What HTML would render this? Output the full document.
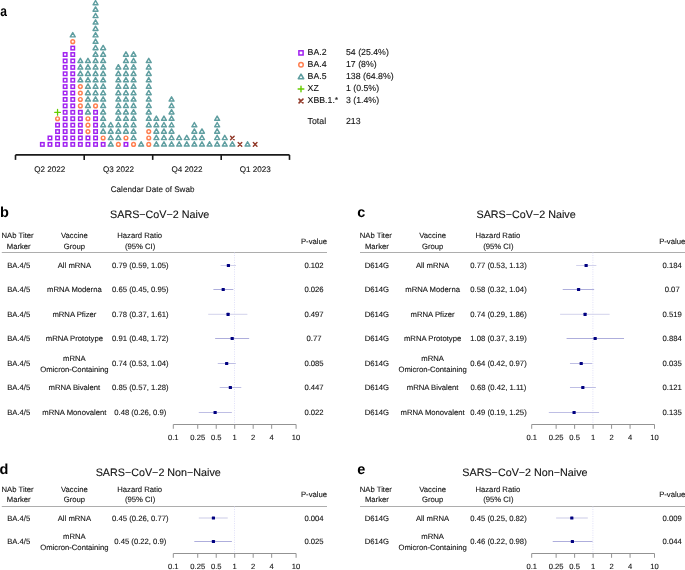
<!DOCTYPE html>
<html><head><meta charset="utf-8"><style>
html,body{margin:0;padding:0;background:#fff;}
body{width:685px;height:570px;overflow:hidden;}
svg{display:block;will-change:transform;}
text{font-family:"Liberation Sans", sans-serif;text-rendering:geometricPrecision;}
</style></head><body>
<svg width="685" height="570" viewBox="0 0 685 570">
<rect width="685" height="570" fill="#fff"/>
<rect x="40.60" y="142.65" width="3.50" height="3.50" fill="none" stroke="#A020F0" stroke-width="1.45"/>
<rect x="48.20" y="142.65" width="3.50" height="3.50" fill="none" stroke="#A020F0" stroke-width="1.45"/>
<rect x="48.20" y="136.23" width="3.50" height="3.50" fill="none" stroke="#A020F0" stroke-width="1.45"/>
<rect x="55.80" y="142.65" width="3.50" height="3.50" fill="none" stroke="#A020F0" stroke-width="1.45"/>
<rect x="55.80" y="136.23" width="3.50" height="3.50" fill="none" stroke="#A020F0" stroke-width="1.45"/>
<rect x="55.80" y="129.81" width="3.50" height="3.50" fill="none" stroke="#A020F0" stroke-width="1.45"/>
<rect x="55.80" y="123.39" width="3.50" height="3.50" fill="none" stroke="#A020F0" stroke-width="1.45"/>
<circle cx="57.55" cy="118.72" r="1.85" fill="none" stroke="#FF7F50" stroke-width="1.45"/>
<path d="M54.70,112.30H60.40M57.55,109.45V115.15" fill="none" stroke="#66CD00" stroke-width="1.3" stroke-linecap="round"/>
<rect x="63.40" y="142.65" width="3.50" height="3.50" fill="none" stroke="#A020F0" stroke-width="1.45"/>
<rect x="63.40" y="136.23" width="3.50" height="3.50" fill="none" stroke="#A020F0" stroke-width="1.45"/>
<rect x="63.40" y="129.81" width="3.50" height="3.50" fill="none" stroke="#A020F0" stroke-width="1.45"/>
<rect x="63.40" y="123.39" width="3.50" height="3.50" fill="none" stroke="#A020F0" stroke-width="1.45"/>
<rect x="63.40" y="116.97" width="3.50" height="3.50" fill="none" stroke="#A020F0" stroke-width="1.45"/>
<rect x="63.40" y="110.55" width="3.50" height="3.50" fill="none" stroke="#A020F0" stroke-width="1.45"/>
<rect x="63.40" y="104.13" width="3.50" height="3.50" fill="none" stroke="#A020F0" stroke-width="1.45"/>
<rect x="63.40" y="97.71" width="3.50" height="3.50" fill="none" stroke="#A020F0" stroke-width="1.45"/>
<rect x="63.40" y="91.29" width="3.50" height="3.50" fill="none" stroke="#A020F0" stroke-width="1.45"/>
<rect x="63.40" y="84.87" width="3.50" height="3.50" fill="none" stroke="#A020F0" stroke-width="1.45"/>
<rect x="63.40" y="78.45" width="3.50" height="3.50" fill="none" stroke="#A020F0" stroke-width="1.45"/>
<rect x="63.40" y="72.03" width="3.50" height="3.50" fill="none" stroke="#A020F0" stroke-width="1.45"/>
<rect x="63.40" y="65.61" width="3.50" height="3.50" fill="none" stroke="#A020F0" stroke-width="1.45"/>
<rect x="63.40" y="59.19" width="3.50" height="3.50" fill="none" stroke="#A020F0" stroke-width="1.45"/>
<rect x="63.40" y="52.77" width="3.50" height="3.50" fill="none" stroke="#A020F0" stroke-width="1.45"/>
<rect x="71.00" y="142.65" width="3.50" height="3.50" fill="none" stroke="#A020F0" stroke-width="1.45"/>
<rect x="71.00" y="136.23" width="3.50" height="3.50" fill="none" stroke="#A020F0" stroke-width="1.45"/>
<rect x="71.00" y="129.81" width="3.50" height="3.50" fill="none" stroke="#A020F0" stroke-width="1.45"/>
<rect x="71.00" y="123.39" width="3.50" height="3.50" fill="none" stroke="#A020F0" stroke-width="1.45"/>
<rect x="71.00" y="116.97" width="3.50" height="3.50" fill="none" stroke="#A020F0" stroke-width="1.45"/>
<rect x="71.00" y="110.55" width="3.50" height="3.50" fill="none" stroke="#A020F0" stroke-width="1.45"/>
<rect x="71.00" y="104.13" width="3.50" height="3.50" fill="none" stroke="#A020F0" stroke-width="1.45"/>
<rect x="71.00" y="97.71" width="3.50" height="3.50" fill="none" stroke="#A020F0" stroke-width="1.45"/>
<rect x="71.00" y="91.29" width="3.50" height="3.50" fill="none" stroke="#A020F0" stroke-width="1.45"/>
<rect x="71.00" y="84.87" width="3.50" height="3.50" fill="none" stroke="#A020F0" stroke-width="1.45"/>
<rect x="71.00" y="78.45" width="3.50" height="3.50" fill="none" stroke="#A020F0" stroke-width="1.45"/>
<rect x="71.00" y="72.03" width="3.50" height="3.50" fill="none" stroke="#A020F0" stroke-width="1.45"/>
<rect x="71.00" y="65.61" width="3.50" height="3.50" fill="none" stroke="#A020F0" stroke-width="1.45"/>
<rect x="71.00" y="59.19" width="3.50" height="3.50" fill="none" stroke="#A020F0" stroke-width="1.45"/>
<rect x="71.00" y="52.77" width="3.50" height="3.50" fill="none" stroke="#A020F0" stroke-width="1.45"/>
<rect x="71.00" y="46.35" width="3.50" height="3.50" fill="none" stroke="#A020F0" stroke-width="1.45"/>
<circle cx="72.75" cy="41.68" r="1.85" fill="none" stroke="#FF7F50" stroke-width="1.45"/>
<path d="M72.75,32.61L75.22,36.89L70.28,36.89Z" fill="none" stroke="#5F9EA0" stroke-width="1.45" stroke-linejoin="round"/>
<rect x="78.60" y="142.65" width="3.50" height="3.50" fill="none" stroke="#A020F0" stroke-width="1.45"/>
<rect x="78.60" y="136.23" width="3.50" height="3.50" fill="none" stroke="#A020F0" stroke-width="1.45"/>
<rect x="78.60" y="129.81" width="3.50" height="3.50" fill="none" stroke="#A020F0" stroke-width="1.45"/>
<rect x="78.60" y="123.39" width="3.50" height="3.50" fill="none" stroke="#A020F0" stroke-width="1.45"/>
<rect x="78.60" y="116.97" width="3.50" height="3.50" fill="none" stroke="#A020F0" stroke-width="1.45"/>
<rect x="78.60" y="110.55" width="3.50" height="3.50" fill="none" stroke="#A020F0" stroke-width="1.45"/>
<circle cx="80.35" cy="105.88" r="1.85" fill="none" stroke="#FF7F50" stroke-width="1.45"/>
<circle cx="80.35" cy="99.46" r="1.85" fill="none" stroke="#FF7F50" stroke-width="1.45"/>
<circle cx="80.35" cy="93.04" r="1.85" fill="none" stroke="#FF7F50" stroke-width="1.45"/>
<circle cx="80.35" cy="86.62" r="1.85" fill="none" stroke="#FF7F50" stroke-width="1.45"/>
<path d="M80.35,77.55L82.82,81.83L77.88,81.83Z" fill="none" stroke="#5F9EA0" stroke-width="1.45" stroke-linejoin="round"/>
<path d="M80.35,71.13L82.82,75.41L77.88,75.41Z" fill="none" stroke="#5F9EA0" stroke-width="1.45" stroke-linejoin="round"/>
<path d="M80.35,64.71L82.82,68.99L77.88,68.99Z" fill="none" stroke="#5F9EA0" stroke-width="1.45" stroke-linejoin="round"/>
<path d="M80.35,58.29L82.82,62.57L77.88,62.57Z" fill="none" stroke="#5F9EA0" stroke-width="1.45" stroke-linejoin="round"/>
<rect x="86.20" y="142.65" width="3.50" height="3.50" fill="none" stroke="#A020F0" stroke-width="1.45"/>
<rect x="86.20" y="136.23" width="3.50" height="3.50" fill="none" stroke="#A020F0" stroke-width="1.45"/>
<circle cx="87.95" cy="131.56" r="1.85" fill="none" stroke="#FF7F50" stroke-width="1.45"/>
<circle cx="87.95" cy="125.14" r="1.85" fill="none" stroke="#FF7F50" stroke-width="1.45"/>
<circle cx="87.95" cy="118.72" r="1.85" fill="none" stroke="#FF7F50" stroke-width="1.45"/>
<path d="M87.95,109.65L90.42,113.93L85.48,113.93Z" fill="none" stroke="#5F9EA0" stroke-width="1.45" stroke-linejoin="round"/>
<path d="M87.95,103.23L90.42,107.51L85.48,107.51Z" fill="none" stroke="#5F9EA0" stroke-width="1.45" stroke-linejoin="round"/>
<path d="M87.95,96.81L90.42,101.09L85.48,101.09Z" fill="none" stroke="#5F9EA0" stroke-width="1.45" stroke-linejoin="round"/>
<path d="M87.95,90.39L90.42,94.67L85.48,94.67Z" fill="none" stroke="#5F9EA0" stroke-width="1.45" stroke-linejoin="round"/>
<path d="M87.95,83.97L90.42,88.25L85.48,88.25Z" fill="none" stroke="#5F9EA0" stroke-width="1.45" stroke-linejoin="round"/>
<path d="M87.95,77.55L90.42,81.83L85.48,81.83Z" fill="none" stroke="#5F9EA0" stroke-width="1.45" stroke-linejoin="round"/>
<path d="M87.95,71.13L90.42,75.41L85.48,75.41Z" fill="none" stroke="#5F9EA0" stroke-width="1.45" stroke-linejoin="round"/>
<path d="M87.95,64.71L90.42,68.99L85.48,68.99Z" fill="none" stroke="#5F9EA0" stroke-width="1.45" stroke-linejoin="round"/>
<path d="M87.95,58.29L90.42,62.57L85.48,62.57Z" fill="none" stroke="#5F9EA0" stroke-width="1.45" stroke-linejoin="round"/>
<rect x="93.80" y="142.65" width="3.50" height="3.50" fill="none" stroke="#A020F0" stroke-width="1.45"/>
<rect x="93.80" y="136.23" width="3.50" height="3.50" fill="none" stroke="#A020F0" stroke-width="1.45"/>
<rect x="93.80" y="129.81" width="3.50" height="3.50" fill="none" stroke="#A020F0" stroke-width="1.45"/>
<rect x="93.80" y="123.39" width="3.50" height="3.50" fill="none" stroke="#A020F0" stroke-width="1.45"/>
<rect x="93.80" y="116.97" width="3.50" height="3.50" fill="none" stroke="#A020F0" stroke-width="1.45"/>
<rect x="93.80" y="110.55" width="3.50" height="3.50" fill="none" stroke="#A020F0" stroke-width="1.45"/>
<circle cx="95.55" cy="105.88" r="1.85" fill="none" stroke="#FF7F50" stroke-width="1.45"/>
<path d="M95.55,96.81L98.02,101.09L93.08,101.09Z" fill="none" stroke="#5F9EA0" stroke-width="1.45" stroke-linejoin="round"/>
<path d="M95.55,90.39L98.02,94.67L93.08,94.67Z" fill="none" stroke="#5F9EA0" stroke-width="1.45" stroke-linejoin="round"/>
<path d="M95.55,83.97L98.02,88.25L93.08,88.25Z" fill="none" stroke="#5F9EA0" stroke-width="1.45" stroke-linejoin="round"/>
<path d="M95.55,77.55L98.02,81.83L93.08,81.83Z" fill="none" stroke="#5F9EA0" stroke-width="1.45" stroke-linejoin="round"/>
<path d="M95.55,71.13L98.02,75.41L93.08,75.41Z" fill="none" stroke="#5F9EA0" stroke-width="1.45" stroke-linejoin="round"/>
<path d="M95.55,64.71L98.02,68.99L93.08,68.99Z" fill="none" stroke="#5F9EA0" stroke-width="1.45" stroke-linejoin="round"/>
<path d="M95.55,58.29L98.02,62.57L93.08,62.57Z" fill="none" stroke="#5F9EA0" stroke-width="1.45" stroke-linejoin="round"/>
<path d="M95.55,51.87L98.02,56.15L93.08,56.15Z" fill="none" stroke="#5F9EA0" stroke-width="1.45" stroke-linejoin="round"/>
<path d="M95.55,45.45L98.02,49.73L93.08,49.73Z" fill="none" stroke="#5F9EA0" stroke-width="1.45" stroke-linejoin="round"/>
<path d="M95.55,39.03L98.02,43.31L93.08,43.31Z" fill="none" stroke="#5F9EA0" stroke-width="1.45" stroke-linejoin="round"/>
<path d="M95.55,32.61L98.02,36.89L93.08,36.89Z" fill="none" stroke="#5F9EA0" stroke-width="1.45" stroke-linejoin="round"/>
<path d="M95.55,26.19L98.02,30.47L93.08,30.47Z" fill="none" stroke="#5F9EA0" stroke-width="1.45" stroke-linejoin="round"/>
<path d="M95.55,19.77L98.02,24.05L93.08,24.05Z" fill="none" stroke="#5F9EA0" stroke-width="1.45" stroke-linejoin="round"/>
<path d="M95.55,13.35L98.02,17.62L93.08,17.62Z" fill="none" stroke="#5F9EA0" stroke-width="1.45" stroke-linejoin="round"/>
<path d="M95.55,6.93L98.02,11.21L93.08,11.21Z" fill="none" stroke="#5F9EA0" stroke-width="1.45" stroke-linejoin="round"/>
<path d="M95.55,0.51L98.02,4.78L93.08,4.78Z" fill="none" stroke="#5F9EA0" stroke-width="1.45" stroke-linejoin="round"/>
<rect x="101.40" y="142.65" width="3.50" height="3.50" fill="none" stroke="#A020F0" stroke-width="1.45"/>
<circle cx="103.15" cy="137.98" r="1.85" fill="none" stroke="#FF7F50" stroke-width="1.45"/>
<path d="M103.15,128.91L105.62,133.19L100.68,133.19Z" fill="none" stroke="#5F9EA0" stroke-width="1.45" stroke-linejoin="round"/>
<path d="M103.15,122.49L105.62,126.77L100.68,126.77Z" fill="none" stroke="#5F9EA0" stroke-width="1.45" stroke-linejoin="round"/>
<path d="M103.15,116.07L105.62,120.34L100.68,120.34Z" fill="none" stroke="#5F9EA0" stroke-width="1.45" stroke-linejoin="round"/>
<path d="M103.15,109.65L105.62,113.93L100.68,113.93Z" fill="none" stroke="#5F9EA0" stroke-width="1.45" stroke-linejoin="round"/>
<path d="M103.15,103.23L105.62,107.51L100.68,107.51Z" fill="none" stroke="#5F9EA0" stroke-width="1.45" stroke-linejoin="round"/>
<path d="M103.15,96.81L105.62,101.09L100.68,101.09Z" fill="none" stroke="#5F9EA0" stroke-width="1.45" stroke-linejoin="round"/>
<path d="M103.15,90.39L105.62,94.67L100.68,94.67Z" fill="none" stroke="#5F9EA0" stroke-width="1.45" stroke-linejoin="round"/>
<path d="M103.15,83.97L105.62,88.25L100.68,88.25Z" fill="none" stroke="#5F9EA0" stroke-width="1.45" stroke-linejoin="round"/>
<path d="M103.15,77.55L105.62,81.83L100.68,81.83Z" fill="none" stroke="#5F9EA0" stroke-width="1.45" stroke-linejoin="round"/>
<path d="M103.15,71.13L105.62,75.41L100.68,75.41Z" fill="none" stroke="#5F9EA0" stroke-width="1.45" stroke-linejoin="round"/>
<path d="M103.15,64.71L105.62,68.99L100.68,68.99Z" fill="none" stroke="#5F9EA0" stroke-width="1.45" stroke-linejoin="round"/>
<path d="M103.15,58.29L105.62,62.57L100.68,62.57Z" fill="none" stroke="#5F9EA0" stroke-width="1.45" stroke-linejoin="round"/>
<path d="M103.15,51.87L105.62,56.15L100.68,56.15Z" fill="none" stroke="#5F9EA0" stroke-width="1.45" stroke-linejoin="round"/>
<path d="M103.15,45.45L105.62,49.73L100.68,49.73Z" fill="none" stroke="#5F9EA0" stroke-width="1.45" stroke-linejoin="round"/>
<path d="M110.75,141.75L113.22,146.03L108.28,146.03Z" fill="none" stroke="#5F9EA0" stroke-width="1.45" stroke-linejoin="round"/>
<path d="M110.75,135.33L113.22,139.61L108.28,139.61Z" fill="none" stroke="#5F9EA0" stroke-width="1.45" stroke-linejoin="round"/>
<path d="M110.75,128.91L113.22,133.19L108.28,133.19Z" fill="none" stroke="#5F9EA0" stroke-width="1.45" stroke-linejoin="round"/>
<path d="M110.75,122.49L113.22,126.77L108.28,126.77Z" fill="none" stroke="#5F9EA0" stroke-width="1.45" stroke-linejoin="round"/>
<circle cx="118.35" cy="144.40" r="1.85" fill="none" stroke="#FF7F50" stroke-width="1.45"/>
<path d="M118.35,135.33L120.82,139.61L115.88,139.61Z" fill="none" stroke="#5F9EA0" stroke-width="1.45" stroke-linejoin="round"/>
<path d="M118.35,128.91L120.82,133.19L115.88,133.19Z" fill="none" stroke="#5F9EA0" stroke-width="1.45" stroke-linejoin="round"/>
<path d="M118.35,122.49L120.82,126.77L115.88,126.77Z" fill="none" stroke="#5F9EA0" stroke-width="1.45" stroke-linejoin="round"/>
<path d="M118.35,116.07L120.82,120.34L115.88,120.34Z" fill="none" stroke="#5F9EA0" stroke-width="1.45" stroke-linejoin="round"/>
<path d="M118.35,109.65L120.82,113.93L115.88,113.93Z" fill="none" stroke="#5F9EA0" stroke-width="1.45" stroke-linejoin="round"/>
<path d="M118.35,103.23L120.82,107.51L115.88,107.51Z" fill="none" stroke="#5F9EA0" stroke-width="1.45" stroke-linejoin="round"/>
<path d="M118.35,96.81L120.82,101.09L115.88,101.09Z" fill="none" stroke="#5F9EA0" stroke-width="1.45" stroke-linejoin="round"/>
<path d="M118.35,90.39L120.82,94.67L115.88,94.67Z" fill="none" stroke="#5F9EA0" stroke-width="1.45" stroke-linejoin="round"/>
<path d="M118.35,83.97L120.82,88.25L115.88,88.25Z" fill="none" stroke="#5F9EA0" stroke-width="1.45" stroke-linejoin="round"/>
<path d="M118.35,77.55L120.82,81.83L115.88,81.83Z" fill="none" stroke="#5F9EA0" stroke-width="1.45" stroke-linejoin="round"/>
<path d="M118.35,71.13L120.82,75.41L115.88,75.41Z" fill="none" stroke="#5F9EA0" stroke-width="1.45" stroke-linejoin="round"/>
<path d="M118.35,64.71L120.82,68.99L115.88,68.99Z" fill="none" stroke="#5F9EA0" stroke-width="1.45" stroke-linejoin="round"/>
<rect x="124.20" y="142.65" width="3.50" height="3.50" fill="none" stroke="#A020F0" stroke-width="1.45"/>
<circle cx="125.95" cy="137.98" r="1.85" fill="none" stroke="#FF7F50" stroke-width="1.45"/>
<path d="M125.95,128.91L128.42,133.19L123.48,133.19Z" fill="none" stroke="#5F9EA0" stroke-width="1.45" stroke-linejoin="round"/>
<path d="M125.95,122.49L128.42,126.77L123.48,126.77Z" fill="none" stroke="#5F9EA0" stroke-width="1.45" stroke-linejoin="round"/>
<path d="M125.95,116.07L128.42,120.34L123.48,120.34Z" fill="none" stroke="#5F9EA0" stroke-width="1.45" stroke-linejoin="round"/>
<path d="M125.95,109.65L128.42,113.93L123.48,113.93Z" fill="none" stroke="#5F9EA0" stroke-width="1.45" stroke-linejoin="round"/>
<path d="M125.95,103.23L128.42,107.51L123.48,107.51Z" fill="none" stroke="#5F9EA0" stroke-width="1.45" stroke-linejoin="round"/>
<path d="M125.95,96.81L128.42,101.09L123.48,101.09Z" fill="none" stroke="#5F9EA0" stroke-width="1.45" stroke-linejoin="round"/>
<path d="M125.95,90.39L128.42,94.67L123.48,94.67Z" fill="none" stroke="#5F9EA0" stroke-width="1.45" stroke-linejoin="round"/>
<path d="M125.95,83.97L128.42,88.25L123.48,88.25Z" fill="none" stroke="#5F9EA0" stroke-width="1.45" stroke-linejoin="round"/>
<path d="M125.95,77.55L128.42,81.83L123.48,81.83Z" fill="none" stroke="#5F9EA0" stroke-width="1.45" stroke-linejoin="round"/>
<path d="M125.95,71.13L128.42,75.41L123.48,75.41Z" fill="none" stroke="#5F9EA0" stroke-width="1.45" stroke-linejoin="round"/>
<path d="M125.95,64.71L128.42,68.99L123.48,68.99Z" fill="none" stroke="#5F9EA0" stroke-width="1.45" stroke-linejoin="round"/>
<path d="M125.95,58.29L128.42,62.57L123.48,62.57Z" fill="none" stroke="#5F9EA0" stroke-width="1.45" stroke-linejoin="round"/>
<path d="M125.95,51.87L128.42,56.15L123.48,56.15Z" fill="none" stroke="#5F9EA0" stroke-width="1.45" stroke-linejoin="round"/>
<circle cx="133.55" cy="144.40" r="1.85" fill="none" stroke="#FF7F50" stroke-width="1.45"/>
<path d="M133.55,135.33L136.02,139.61L131.08,139.61Z" fill="none" stroke="#5F9EA0" stroke-width="1.45" stroke-linejoin="round"/>
<path d="M133.55,128.91L136.02,133.19L131.08,133.19Z" fill="none" stroke="#5F9EA0" stroke-width="1.45" stroke-linejoin="round"/>
<path d="M133.55,122.49L136.02,126.77L131.08,126.77Z" fill="none" stroke="#5F9EA0" stroke-width="1.45" stroke-linejoin="round"/>
<path d="M133.55,116.07L136.02,120.34L131.08,120.34Z" fill="none" stroke="#5F9EA0" stroke-width="1.45" stroke-linejoin="round"/>
<path d="M133.55,109.65L136.02,113.93L131.08,113.93Z" fill="none" stroke="#5F9EA0" stroke-width="1.45" stroke-linejoin="round"/>
<path d="M133.55,103.23L136.02,107.51L131.08,107.51Z" fill="none" stroke="#5F9EA0" stroke-width="1.45" stroke-linejoin="round"/>
<path d="M133.55,96.81L136.02,101.09L131.08,101.09Z" fill="none" stroke="#5F9EA0" stroke-width="1.45" stroke-linejoin="round"/>
<path d="M133.55,90.39L136.02,94.67L131.08,94.67Z" fill="none" stroke="#5F9EA0" stroke-width="1.45" stroke-linejoin="round"/>
<path d="M133.55,83.97L136.02,88.25L131.08,88.25Z" fill="none" stroke="#5F9EA0" stroke-width="1.45" stroke-linejoin="round"/>
<path d="M133.55,77.55L136.02,81.83L131.08,81.83Z" fill="none" stroke="#5F9EA0" stroke-width="1.45" stroke-linejoin="round"/>
<path d="M133.55,71.13L136.02,75.41L131.08,75.41Z" fill="none" stroke="#5F9EA0" stroke-width="1.45" stroke-linejoin="round"/>
<path d="M133.55,64.71L136.02,68.99L131.08,68.99Z" fill="none" stroke="#5F9EA0" stroke-width="1.45" stroke-linejoin="round"/>
<path d="M133.55,58.29L136.02,62.57L131.08,62.57Z" fill="none" stroke="#5F9EA0" stroke-width="1.45" stroke-linejoin="round"/>
<path d="M133.55,51.87L136.02,56.15L131.08,56.15Z" fill="none" stroke="#5F9EA0" stroke-width="1.45" stroke-linejoin="round"/>
<path d="M141.15,141.75L143.62,146.03L138.68,146.03Z" fill="none" stroke="#5F9EA0" stroke-width="1.45" stroke-linejoin="round"/>
<circle cx="148.75" cy="144.40" r="1.85" fill="none" stroke="#FF7F50" stroke-width="1.45"/>
<circle cx="148.75" cy="137.98" r="1.85" fill="none" stroke="#FF7F50" stroke-width="1.45"/>
<circle cx="148.75" cy="131.56" r="1.85" fill="none" stroke="#FF7F50" stroke-width="1.45"/>
<path d="M148.75,122.49L151.22,126.77L146.28,126.77Z" fill="none" stroke="#5F9EA0" stroke-width="1.45" stroke-linejoin="round"/>
<path d="M148.75,116.07L151.22,120.34L146.28,120.34Z" fill="none" stroke="#5F9EA0" stroke-width="1.45" stroke-linejoin="round"/>
<path d="M148.75,109.65L151.22,113.93L146.28,113.93Z" fill="none" stroke="#5F9EA0" stroke-width="1.45" stroke-linejoin="round"/>
<path d="M148.75,103.23L151.22,107.51L146.28,107.51Z" fill="none" stroke="#5F9EA0" stroke-width="1.45" stroke-linejoin="round"/>
<path d="M148.75,96.81L151.22,101.09L146.28,101.09Z" fill="none" stroke="#5F9EA0" stroke-width="1.45" stroke-linejoin="round"/>
<path d="M148.75,90.39L151.22,94.67L146.28,94.67Z" fill="none" stroke="#5F9EA0" stroke-width="1.45" stroke-linejoin="round"/>
<path d="M148.75,83.97L151.22,88.25L146.28,88.25Z" fill="none" stroke="#5F9EA0" stroke-width="1.45" stroke-linejoin="round"/>
<path d="M148.75,77.55L151.22,81.83L146.28,81.83Z" fill="none" stroke="#5F9EA0" stroke-width="1.45" stroke-linejoin="round"/>
<path d="M148.75,71.13L151.22,75.41L146.28,75.41Z" fill="none" stroke="#5F9EA0" stroke-width="1.45" stroke-linejoin="round"/>
<path d="M148.75,64.71L151.22,68.99L146.28,68.99Z" fill="none" stroke="#5F9EA0" stroke-width="1.45" stroke-linejoin="round"/>
<path d="M148.75,58.29L151.22,62.57L146.28,62.57Z" fill="none" stroke="#5F9EA0" stroke-width="1.45" stroke-linejoin="round"/>
<path d="M156.35,141.75L158.82,146.03L153.88,146.03Z" fill="none" stroke="#5F9EA0" stroke-width="1.45" stroke-linejoin="round"/>
<path d="M156.35,135.33L158.82,139.61L153.88,139.61Z" fill="none" stroke="#5F9EA0" stroke-width="1.45" stroke-linejoin="round"/>
<path d="M156.35,128.91L158.82,133.19L153.88,133.19Z" fill="none" stroke="#5F9EA0" stroke-width="1.45" stroke-linejoin="round"/>
<path d="M156.35,122.49L158.82,126.77L153.88,126.77Z" fill="none" stroke="#5F9EA0" stroke-width="1.45" stroke-linejoin="round"/>
<path d="M156.35,116.07L158.82,120.34L153.88,120.34Z" fill="none" stroke="#5F9EA0" stroke-width="1.45" stroke-linejoin="round"/>
<path d="M163.95,141.75L166.42,146.03L161.48,146.03Z" fill="none" stroke="#5F9EA0" stroke-width="1.45" stroke-linejoin="round"/>
<path d="M163.95,135.33L166.42,139.61L161.48,139.61Z" fill="none" stroke="#5F9EA0" stroke-width="1.45" stroke-linejoin="round"/>
<path d="M163.95,128.91L166.42,133.19L161.48,133.19Z" fill="none" stroke="#5F9EA0" stroke-width="1.45" stroke-linejoin="round"/>
<path d="M163.95,122.49L166.42,126.77L161.48,126.77Z" fill="none" stroke="#5F9EA0" stroke-width="1.45" stroke-linejoin="round"/>
<path d="M163.95,116.07L166.42,120.34L161.48,120.34Z" fill="none" stroke="#5F9EA0" stroke-width="1.45" stroke-linejoin="round"/>
<path d="M171.55,141.75L174.02,146.03L169.08,146.03Z" fill="none" stroke="#5F9EA0" stroke-width="1.45" stroke-linejoin="round"/>
<path d="M171.55,135.33L174.02,139.61L169.08,139.61Z" fill="none" stroke="#5F9EA0" stroke-width="1.45" stroke-linejoin="round"/>
<path d="M171.55,128.91L174.02,133.19L169.08,133.19Z" fill="none" stroke="#5F9EA0" stroke-width="1.45" stroke-linejoin="round"/>
<path d="M171.55,122.49L174.02,126.77L169.08,126.77Z" fill="none" stroke="#5F9EA0" stroke-width="1.45" stroke-linejoin="round"/>
<path d="M171.55,116.07L174.02,120.34L169.08,120.34Z" fill="none" stroke="#5F9EA0" stroke-width="1.45" stroke-linejoin="round"/>
<path d="M171.55,109.65L174.02,113.93L169.08,113.93Z" fill="none" stroke="#5F9EA0" stroke-width="1.45" stroke-linejoin="round"/>
<path d="M171.55,103.23L174.02,107.51L169.08,107.51Z" fill="none" stroke="#5F9EA0" stroke-width="1.45" stroke-linejoin="round"/>
<path d="M171.55,96.81L174.02,101.09L169.08,101.09Z" fill="none" stroke="#5F9EA0" stroke-width="1.45" stroke-linejoin="round"/>
<path d="M179.15,141.75L181.62,146.03L176.68,146.03Z" fill="none" stroke="#5F9EA0" stroke-width="1.45" stroke-linejoin="round"/>
<path d="M179.15,135.33L181.62,139.61L176.68,139.61Z" fill="none" stroke="#5F9EA0" stroke-width="1.45" stroke-linejoin="round"/>
<path d="M186.75,141.75L189.22,146.03L184.28,146.03Z" fill="none" stroke="#5F9EA0" stroke-width="1.45" stroke-linejoin="round"/>
<path d="M186.75,135.33L189.22,139.61L184.28,139.61Z" fill="none" stroke="#5F9EA0" stroke-width="1.45" stroke-linejoin="round"/>
<path d="M194.35,141.75L196.82,146.03L191.88,146.03Z" fill="none" stroke="#5F9EA0" stroke-width="1.45" stroke-linejoin="round"/>
<path d="M194.35,135.33L196.82,139.61L191.88,139.61Z" fill="none" stroke="#5F9EA0" stroke-width="1.45" stroke-linejoin="round"/>
<path d="M194.35,128.91L196.82,133.19L191.88,133.19Z" fill="none" stroke="#5F9EA0" stroke-width="1.45" stroke-linejoin="round"/>
<path d="M194.35,122.49L196.82,126.77L191.88,126.77Z" fill="none" stroke="#5F9EA0" stroke-width="1.45" stroke-linejoin="round"/>
<path d="M201.95,141.75L204.42,146.03L199.48,146.03Z" fill="none" stroke="#5F9EA0" stroke-width="1.45" stroke-linejoin="round"/>
<path d="M201.95,135.33L204.42,139.61L199.48,139.61Z" fill="none" stroke="#5F9EA0" stroke-width="1.45" stroke-linejoin="round"/>
<path d="M201.95,128.91L204.42,133.19L199.48,133.19Z" fill="none" stroke="#5F9EA0" stroke-width="1.45" stroke-linejoin="round"/>
<path d="M209.55,141.75L212.02,146.03L207.08,146.03Z" fill="none" stroke="#5F9EA0" stroke-width="1.45" stroke-linejoin="round"/>
<path d="M217.15,141.75L219.62,146.03L214.68,146.03Z" fill="none" stroke="#5F9EA0" stroke-width="1.45" stroke-linejoin="round"/>
<path d="M217.15,135.33L219.62,139.61L214.68,139.61Z" fill="none" stroke="#5F9EA0" stroke-width="1.45" stroke-linejoin="round"/>
<path d="M217.15,128.91L219.62,133.19L214.68,133.19Z" fill="none" stroke="#5F9EA0" stroke-width="1.45" stroke-linejoin="round"/>
<path d="M217.15,122.49L219.62,126.77L214.68,126.77Z" fill="none" stroke="#5F9EA0" stroke-width="1.45" stroke-linejoin="round"/>
<path d="M217.15,116.07L219.62,120.34L214.68,120.34Z" fill="none" stroke="#5F9EA0" stroke-width="1.45" stroke-linejoin="round"/>
<path d="M224.75,141.75L227.22,146.03L222.28,146.03Z" fill="none" stroke="#5F9EA0" stroke-width="1.45" stroke-linejoin="round"/>
<path d="M224.75,135.33L227.22,139.61L222.28,139.61Z" fill="none" stroke="#5F9EA0" stroke-width="1.45" stroke-linejoin="round"/>
<path d="M232.35,141.75L234.82,146.03L229.88,146.03Z" fill="none" stroke="#5F9EA0" stroke-width="1.45" stroke-linejoin="round"/>
<path d="M230.55,136.18L234.15,139.78M230.55,139.78L234.15,136.18" fill="none" stroke="#923A2A" stroke-width="1.4" stroke-linecap="round"/>
<path d="M238.15,142.60L241.75,146.20M238.15,146.20L241.75,142.60" fill="none" stroke="#923A2A" stroke-width="1.4" stroke-linecap="round"/>
<path d="M247.55,141.75L250.02,146.03L245.08,146.03Z" fill="none" stroke="#5F9EA0" stroke-width="1.45" stroke-linejoin="round"/>
<path d="M253.35,142.60L256.95,146.20M253.35,146.20L256.95,142.60" fill="none" stroke="#923A2A" stroke-width="1.4" stroke-linecap="round"/>
<path d="M15.5,154.9H289.5" stroke="#1a1a1a" stroke-width="1.8" fill="none"/>
<path d="M15.5,154.9V159.9" stroke="#1a1a1a" stroke-width="1.6" fill="none"/>
<path d="M84.2,154.9V159.9" stroke="#1a1a1a" stroke-width="1.6" fill="none"/>
<path d="M152.7,154.9V159.9" stroke="#1a1a1a" stroke-width="1.6" fill="none"/>
<path d="M221.2,154.9V159.9" stroke="#1a1a1a" stroke-width="1.6" fill="none"/>
<path d="M289.5,154.9V159.9" stroke="#1a1a1a" stroke-width="1.6" fill="none"/>
<text x="49.85" y="172.10" font-size="8.1" text-anchor="middle" font-weight="normal" fill="#111" stroke="#111" stroke-width="0.1">Q2 2022</text>
<text x="118.45" y="172.10" font-size="8.1" text-anchor="middle" font-weight="normal" fill="#111" stroke="#111" stroke-width="0.1">Q3 2022</text>
<text x="186.95" y="172.10" font-size="8.1" text-anchor="middle" font-weight="normal" fill="#111" stroke="#111" stroke-width="0.1">Q4 2022</text>
<text x="255.35" y="172.10" font-size="8.1" text-anchor="middle" font-weight="normal" fill="#111" stroke="#111" stroke-width="0.1">Q1 2023</text>
<text x="152.60" y="191.50" font-size="8.1" text-anchor="middle" font-weight="normal" fill="#111" stroke="#111" stroke-width="0.1">Calendar Date of Swab</text>
<g transform="translate(0.75,0) scale(0.83,1) translate(-0.75,0)">
<text x="0.20" y="16.35" font-size="14.5" text-anchor="start" font-weight="bold" fill="#000">a</text>
</g>
<rect x="298.90" y="50.80" width="4.20" height="4.20" fill="none" stroke="#A020F0" stroke-width="1.5"/>
<text x="307.60" y="55.10" font-size="8.75" text-anchor="start" font-weight="normal" fill="#111" stroke="#111" stroke-width="0.1">BA.2</text>
<text x="346.00" y="55.10" font-size="8.75" text-anchor="start" font-weight="normal" fill="#111" stroke="#111" stroke-width="0.1">54 (25.4%)</text>
<circle cx="301.00" cy="64.85" r="2.25" fill="none" stroke="#FF7F50" stroke-width="1.5"/>
<text x="307.60" y="67.05" font-size="8.75" text-anchor="start" font-weight="normal" fill="#111" stroke="#111" stroke-width="0.1">BA.4</text>
<text x="346.00" y="67.05" font-size="8.75" text-anchor="start" font-weight="normal" fill="#111" stroke="#111" stroke-width="0.1">17 (8%)</text>
<path d="M301.00,74.10L303.68,78.75L298.32,78.75Z" fill="none" stroke="#5F9EA0" stroke-width="1.55" stroke-linejoin="round"/>
<text x="307.60" y="79.00" font-size="8.75" text-anchor="start" font-weight="normal" fill="#111" stroke="#111" stroke-width="0.1">BA.5</text>
<text x="346.00" y="79.00" font-size="8.75" text-anchor="start" font-weight="normal" fill="#111" stroke="#111" stroke-width="0.1">138 (64.8%)</text>
<path d="M298.15,88.95H303.85M301.00,86.10V91.80" fill="none" stroke="#66CD00" stroke-width="1.4" stroke-linecap="round"/>
<text x="307.60" y="90.95" font-size="8.75" text-anchor="start" font-weight="normal" fill="#111" stroke="#111" stroke-width="0.1">XZ</text>
<text x="346.00" y="90.95" font-size="8.75" text-anchor="start" font-weight="normal" fill="#111" stroke="#111" stroke-width="0.1">1 (0.5%)</text>
<path d="M299.05,99.05L302.95,102.95M299.05,102.95L302.95,99.05" fill="none" stroke="#923A2A" stroke-width="1.65" stroke-linecap="round"/>
<text x="307.60" y="102.90" font-size="8.75" text-anchor="start" font-weight="normal" fill="#111" stroke="#111" stroke-width="0.1">XBB.1.*</text>
<text x="346.00" y="102.90" font-size="8.75" text-anchor="start" font-weight="normal" fill="#111" stroke="#111" stroke-width="0.1">3 (1.4%)</text>
<text x="307.60" y="123.50" font-size="8.75" text-anchor="start" font-weight="normal" fill="#111" stroke="#111" stroke-width="0.1">Total</text>
<text x="346.00" y="123.50" font-size="8.75" text-anchor="start" font-weight="normal" fill="#111" stroke="#111" stroke-width="0.1">213</text>
<text x="-0.05" y="216.60" font-size="14.5" text-anchor="start" font-weight="bold" fill="#000">b</text>
<text x="159.65" y="218.40" font-size="10.75" text-anchor="middle" font-weight="normal" fill="#111" stroke="#111" stroke-width="0.1">SARS−CoV−2 Naive</text>
<text x="17.60" y="238.00" font-size="7.7" text-anchor="middle" font-weight="normal" fill="#111" stroke="#111" stroke-width="0.1">NAb Titer</text>
<text x="18.70" y="248.60" font-size="7.7" text-anchor="middle" font-weight="normal" fill="#111" stroke="#111" stroke-width="0.1">Marker</text>
<text x="74.40" y="238.00" font-size="7.7" text-anchor="middle" font-weight="normal" fill="#111" stroke="#111" stroke-width="0.1">Vaccine</text>
<text x="74.40" y="248.60" font-size="7.7" text-anchor="middle" font-weight="normal" fill="#111" stroke="#111" stroke-width="0.1">Group</text>
<text x="139.70" y="238.00" font-size="7.7" text-anchor="middle" font-weight="normal" fill="#111" stroke="#111" stroke-width="0.1">Hazard Ratio</text>
<text x="140.10" y="248.60" font-size="7.7" text-anchor="middle" font-weight="normal" fill="#111" stroke="#111" stroke-width="0.1">(95% CI)</text>
<text x="314.00" y="243.60" font-size="7.7" text-anchor="middle" font-weight="normal" fill="#111" stroke="#111" stroke-width="0.1">P-value</text>
<path d="M1.8,252.5H327" stroke="#adadad" stroke-width="1" fill="none"/>
<path d="M234.5,252.0V424.5" stroke="#e2e2f8" stroke-width="1" stroke-dasharray="1.1,1.25" stroke-dashoffset="-0.6" fill="none"/>
<text x="18.70" y="268.00" font-size="7.7" text-anchor="middle" font-weight="normal" fill="#111" stroke="#111" stroke-width="0.1">BA.4/5</text>
<text x="74.40" y="268.00" font-size="7.7" text-anchor="middle" font-weight="normal" fill="#111" stroke="#111" stroke-width="0.1">All mRNA</text>
<text x="140.30" y="268.00" font-size="7.7" text-anchor="middle" font-weight="normal" fill="#111" stroke="#111" stroke-width="0.1">0.79 (0.59, 1.05)</text>
<text x="314.00" y="268.00" font-size="7.7" text-anchor="middle" font-weight="normal" fill="#111" stroke="#111" stroke-width="0.1">0.102</text>
<path d="M220.63,265.50H236.00" stroke="#d2d2ec" stroke-width="1" fill="none"/>
<rect x="226.81" y="263.90" width="3.2" height="3.2" rx="0.5" fill="#000080"/>
<text x="18.70" y="292.00" font-size="7.7" text-anchor="middle" font-weight="normal" fill="#111" stroke="#111" stroke-width="0.1">BA.4/5</text>
<text x="74.40" y="292.00" font-size="7.7" text-anchor="middle" font-weight="normal" fill="#111" stroke="#111" stroke-width="0.1">mRNA Moderna</text>
<text x="140.30" y="292.00" font-size="7.7" text-anchor="middle" font-weight="normal" fill="#111" stroke="#111" stroke-width="0.1">0.65 (0.45, 0.95)</text>
<text x="314.00" y="292.00" font-size="7.7" text-anchor="middle" font-weight="normal" fill="#111" stroke="#111" stroke-width="0.1">0.026</text>
<path d="M213.41,289.50H233.33" stroke="#aeaedc" stroke-width="1" fill="none"/>
<rect x="221.61" y="287.90" width="3.2" height="3.2" rx="0.5" fill="#000080"/>
<text x="18.70" y="316.80" font-size="7.7" text-anchor="middle" font-weight="normal" fill="#111" stroke="#111" stroke-width="0.1">BA.4/5</text>
<text x="74.40" y="316.80" font-size="7.7" text-anchor="middle" font-weight="normal" fill="#111" stroke="#111" stroke-width="0.1">mRNA Pfizer</text>
<text x="140.30" y="316.80" font-size="7.7" text-anchor="middle" font-weight="normal" fill="#111" stroke="#111" stroke-width="0.1">0.78 (0.37, 1.61)</text>
<text x="314.00" y="316.80" font-size="7.7" text-anchor="middle" font-weight="normal" fill="#111" stroke="#111" stroke-width="0.1">0.497</text>
<path d="M208.19,314.30H247.40" stroke="#d2d2ec" stroke-width="1" fill="none"/>
<rect x="226.47" y="312.70" width="3.2" height="3.2" rx="0.5" fill="#000080"/>
<text x="18.70" y="341.00" font-size="7.7" text-anchor="middle" font-weight="normal" fill="#111" stroke="#111" stroke-width="0.1">BA.4/5</text>
<text x="74.40" y="341.00" font-size="7.7" text-anchor="middle" font-weight="normal" fill="#111" stroke="#111" stroke-width="0.1">mRNA Prototype</text>
<text x="140.30" y="341.00" font-size="7.7" text-anchor="middle" font-weight="normal" fill="#111" stroke="#111" stroke-width="0.1">0.91 (0.48, 1.72)</text>
<text x="314.00" y="341.00" font-size="7.7" text-anchor="middle" font-weight="normal" fill="#111" stroke="#111" stroke-width="0.1">0.77</text>
<path d="M215.13,338.50H249.16" stroke="#aeaedc" stroke-width="1" fill="none"/>
<rect x="230.59" y="336.90" width="3.2" height="3.2" rx="0.5" fill="#000080"/>
<text x="18.70" y="366.00" font-size="7.7" text-anchor="middle" font-weight="normal" fill="#111" stroke="#111" stroke-width="0.1">BA.4/5</text>
<text x="74.40" y="360.70" font-size="7.7" text-anchor="middle" font-weight="normal" fill="#111" stroke="#111" stroke-width="0.1">mRNA</text>
<text x="74.40" y="371.50" font-size="7.7" text-anchor="middle" font-weight="normal" fill="#111" stroke="#111" stroke-width="0.1">Omicron-Containing</text>
<text x="140.30" y="366.00" font-size="7.7" text-anchor="middle" font-weight="normal" fill="#111" stroke="#111" stroke-width="0.1">0.74 (0.53, 1.04)</text>
<text x="314.00" y="366.00" font-size="7.7" text-anchor="middle" font-weight="normal" fill="#111" stroke="#111" stroke-width="0.1">0.085</text>
<path d="M217.77,363.50H235.75" stroke="#bebee4" stroke-width="1" fill="none"/>
<rect x="225.07" y="361.90" width="3.2" height="3.2" rx="0.5" fill="#000080"/>
<text x="18.70" y="390.00" font-size="7.7" text-anchor="middle" font-weight="normal" fill="#111" stroke="#111" stroke-width="0.1">BA.4/5</text>
<text x="74.40" y="390.00" font-size="7.7" text-anchor="middle" font-weight="normal" fill="#111" stroke="#111" stroke-width="0.1">mRNA Bivalent</text>
<text x="140.30" y="390.00" font-size="7.7" text-anchor="middle" font-weight="normal" fill="#111" stroke="#111" stroke-width="0.1">0.85 (0.57, 1.28)</text>
<text x="314.00" y="390.00" font-size="7.7" text-anchor="middle" font-weight="normal" fill="#111" stroke="#111" stroke-width="0.1">0.447</text>
<path d="M219.71,387.50H241.28" stroke="#bebee4" stroke-width="1" fill="none"/>
<rect x="228.77" y="385.90" width="3.2" height="3.2" rx="0.5" fill="#000080"/>
<text x="18.70" y="415.00" font-size="7.7" text-anchor="middle" font-weight="normal" fill="#111" stroke="#111" stroke-width="0.1">BA.4/5</text>
<text x="74.40" y="415.00" font-size="7.7" text-anchor="middle" font-weight="normal" fill="#111" stroke="#111" stroke-width="0.1">mRNA Monovalent</text>
<text x="140.30" y="415.00" font-size="7.7" text-anchor="middle" font-weight="normal" fill="#111" stroke="#111" stroke-width="0.1">0.48 (0.26, 0.9)</text>
<text x="314.00" y="415.00" font-size="7.7" text-anchor="middle" font-weight="normal" fill="#111" stroke="#111" stroke-width="0.1">0.022</text>
<path d="M198.78,412.50H231.89" stroke="#bebee4" stroke-width="1" fill="none"/>
<rect x="213.53" y="410.90" width="3.2" height="3.2" rx="0.5" fill="#000080"/>
<path d="M173.30,424.5H296.10" stroke="#939393" stroke-width="1" fill="none"/>
<path d="M173.30,424.5V428.8" stroke="#939393" stroke-width="1" fill="none"/>
<text x="173.30" y="440.40" font-size="7.6" text-anchor="middle" font-weight="normal" fill="#111" stroke="#111" stroke-width="0.1">0.1</text>
<path d="M197.73,424.5V428.8" stroke="#939393" stroke-width="1" fill="none"/>
<text x="197.73" y="440.40" font-size="7.6" text-anchor="middle" font-weight="normal" fill="#111" stroke="#111" stroke-width="0.1">0.25</text>
<path d="M216.22,424.5V428.8" stroke="#939393" stroke-width="1" fill="none"/>
<text x="216.22" y="440.40" font-size="7.6" text-anchor="middle" font-weight="normal" fill="#111" stroke="#111" stroke-width="0.1">0.5</text>
<path d="M234.70,424.5V428.8" stroke="#939393" stroke-width="1" fill="none"/>
<text x="234.70" y="440.40" font-size="7.6" text-anchor="middle" font-weight="normal" fill="#111" stroke="#111" stroke-width="0.1">1</text>
<path d="M253.18,424.5V428.8" stroke="#939393" stroke-width="1" fill="none"/>
<text x="253.18" y="440.40" font-size="7.6" text-anchor="middle" font-weight="normal" fill="#111" stroke="#111" stroke-width="0.1">2</text>
<path d="M271.67,424.5V428.8" stroke="#939393" stroke-width="1" fill="none"/>
<text x="271.67" y="440.40" font-size="7.6" text-anchor="middle" font-weight="normal" fill="#111" stroke="#111" stroke-width="0.1">4</text>
<path d="M296.10,424.5V428.8" stroke="#939393" stroke-width="1" fill="none"/>
<text x="296.10" y="440.40" font-size="7.6" text-anchor="middle" font-weight="normal" fill="#111" stroke="#111" stroke-width="0.1">10</text>
<text x="357.20" y="216.60" font-size="14.5" text-anchor="start" font-weight="bold" fill="#000">c</text>
<text x="526.10" y="218.40" font-size="10.75" text-anchor="middle" font-weight="normal" fill="#111" stroke="#111" stroke-width="0.1">SARS−CoV−2 Naive</text>
<text x="375.80" y="238.00" font-size="7.7" text-anchor="middle" font-weight="normal" fill="#111" stroke="#111" stroke-width="0.1">NAb Titer</text>
<text x="376.90" y="248.60" font-size="7.7" text-anchor="middle" font-weight="normal" fill="#111" stroke="#111" stroke-width="0.1">Marker</text>
<text x="432.60" y="238.00" font-size="7.7" text-anchor="middle" font-weight="normal" fill="#111" stroke="#111" stroke-width="0.1">Vaccine</text>
<text x="432.60" y="248.60" font-size="7.7" text-anchor="middle" font-weight="normal" fill="#111" stroke="#111" stroke-width="0.1">Group</text>
<text x="497.90" y="238.00" font-size="7.7" text-anchor="middle" font-weight="normal" fill="#111" stroke="#111" stroke-width="0.1">Hazard Ratio</text>
<text x="498.30" y="248.60" font-size="7.7" text-anchor="middle" font-weight="normal" fill="#111" stroke="#111" stroke-width="0.1">(95% CI)</text>
<text x="672.20" y="243.60" font-size="7.7" text-anchor="middle" font-weight="normal" fill="#111" stroke="#111" stroke-width="0.1">P-value</text>
<path d="M360.0,252.5H685.2" stroke="#adadad" stroke-width="1" fill="none"/>
<path d="M592.9,252.0V424.5" stroke="#e2e2f8" stroke-width="1" stroke-dasharray="1.1,1.25" stroke-dashoffset="-0.6" fill="none"/>
<text x="376.90" y="268.00" font-size="7.7" text-anchor="middle" font-weight="normal" fill="#111" stroke="#111" stroke-width="0.1">D614G</text>
<text x="432.60" y="268.00" font-size="7.7" text-anchor="middle" font-weight="normal" fill="#111" stroke="#111" stroke-width="0.1">All mRNA</text>
<text x="498.50" y="268.00" font-size="7.7" text-anchor="middle" font-weight="normal" fill="#111" stroke="#111" stroke-width="0.1">0.77 (0.53, 1.13)</text>
<text x="672.20" y="268.00" font-size="7.7" text-anchor="middle" font-weight="normal" fill="#111" stroke="#111" stroke-width="0.1">0.184</text>
<path d="M576.17,265.50H596.36" stroke="#d2d2ec" stroke-width="1" fill="none"/>
<rect x="584.53" y="263.90" width="3.2" height="3.2" rx="0.5" fill="#000080"/>
<text x="376.90" y="292.00" font-size="7.7" text-anchor="middle" font-weight="normal" fill="#111" stroke="#111" stroke-width="0.1">D614G</text>
<text x="432.60" y="292.00" font-size="7.7" text-anchor="middle" font-weight="normal" fill="#111" stroke="#111" stroke-width="0.1">mRNA Moderna</text>
<text x="498.50" y="292.00" font-size="7.7" text-anchor="middle" font-weight="normal" fill="#111" stroke="#111" stroke-width="0.1">0.58 (0.32, 1.04)</text>
<text x="672.20" y="292.00" font-size="7.7" text-anchor="middle" font-weight="normal" fill="#111" stroke="#111" stroke-width="0.1">0.07</text>
<path d="M562.72,289.50H594.15" stroke="#aeaedc" stroke-width="1" fill="none"/>
<rect x="576.97" y="287.90" width="3.2" height="3.2" rx="0.5" fill="#000080"/>
<text x="376.90" y="316.80" font-size="7.7" text-anchor="middle" font-weight="normal" fill="#111" stroke="#111" stroke-width="0.1">D614G</text>
<text x="432.60" y="316.80" font-size="7.7" text-anchor="middle" font-weight="normal" fill="#111" stroke="#111" stroke-width="0.1">mRNA Pfizer</text>
<text x="498.50" y="316.80" font-size="7.7" text-anchor="middle" font-weight="normal" fill="#111" stroke="#111" stroke-width="0.1">0.74 (0.29, 1.86)</text>
<text x="672.20" y="316.80" font-size="7.7" text-anchor="middle" font-weight="normal" fill="#111" stroke="#111" stroke-width="0.1">0.519</text>
<path d="M560.09,314.30H609.65" stroke="#d2d2ec" stroke-width="1" fill="none"/>
<rect x="583.47" y="312.70" width="3.2" height="3.2" rx="0.5" fill="#000080"/>
<text x="376.90" y="341.00" font-size="7.7" text-anchor="middle" font-weight="normal" fill="#111" stroke="#111" stroke-width="0.1">D614G</text>
<text x="432.60" y="341.00" font-size="7.7" text-anchor="middle" font-weight="normal" fill="#111" stroke="#111" stroke-width="0.1">mRNA Prototype</text>
<text x="498.50" y="341.00" font-size="7.7" text-anchor="middle" font-weight="normal" fill="#111" stroke="#111" stroke-width="0.1">1.08 (0.37, 3.19)</text>
<text x="672.20" y="341.00" font-size="7.7" text-anchor="middle" font-weight="normal" fill="#111" stroke="#111" stroke-width="0.1">0.884</text>
<path d="M566.59,338.50H624.03" stroke="#aeaedc" stroke-width="1" fill="none"/>
<rect x="593.55" y="336.90" width="3.2" height="3.2" rx="0.5" fill="#000080"/>
<text x="376.90" y="366.00" font-size="7.7" text-anchor="middle" font-weight="normal" fill="#111" stroke="#111" stroke-width="0.1">D614G</text>
<text x="432.60" y="360.70" font-size="7.7" text-anchor="middle" font-weight="normal" fill="#111" stroke="#111" stroke-width="0.1">mRNA</text>
<text x="432.60" y="371.50" font-size="7.7" text-anchor="middle" font-weight="normal" fill="#111" stroke="#111" stroke-width="0.1">Omicron-Containing</text>
<text x="498.50" y="366.00" font-size="7.7" text-anchor="middle" font-weight="normal" fill="#111" stroke="#111" stroke-width="0.1">0.64 (0.42, 0.97)</text>
<text x="672.20" y="366.00" font-size="7.7" text-anchor="middle" font-weight="normal" fill="#111" stroke="#111" stroke-width="0.1">0.035</text>
<path d="M569.97,363.50H592.29" stroke="#bebee4" stroke-width="1" fill="none"/>
<rect x="579.60" y="361.90" width="3.2" height="3.2" rx="0.5" fill="#000080"/>
<text x="376.90" y="390.00" font-size="7.7" text-anchor="middle" font-weight="normal" fill="#111" stroke="#111" stroke-width="0.1">D614G</text>
<text x="432.60" y="390.00" font-size="7.7" text-anchor="middle" font-weight="normal" fill="#111" stroke="#111" stroke-width="0.1">mRNA Bivalent</text>
<text x="498.50" y="390.00" font-size="7.7" text-anchor="middle" font-weight="normal" fill="#111" stroke="#111" stroke-width="0.1">0.68 (0.42, 1.11)</text>
<text x="672.20" y="390.00" font-size="7.7" text-anchor="middle" font-weight="normal" fill="#111" stroke="#111" stroke-width="0.1">0.121</text>
<path d="M569.97,387.50H595.88" stroke="#bebee4" stroke-width="1" fill="none"/>
<rect x="581.22" y="385.90" width="3.2" height="3.2" rx="0.5" fill="#000080"/>
<text x="376.90" y="415.00" font-size="7.7" text-anchor="middle" font-weight="normal" fill="#111" stroke="#111" stroke-width="0.1">D614G</text>
<text x="432.60" y="415.00" font-size="7.7" text-anchor="middle" font-weight="normal" fill="#111" stroke="#111" stroke-width="0.1">mRNA Monovalent</text>
<text x="498.50" y="415.00" font-size="7.7" text-anchor="middle" font-weight="normal" fill="#111" stroke="#111" stroke-width="0.1">0.49 (0.19, 1.25)</text>
<text x="672.20" y="415.00" font-size="7.7" text-anchor="middle" font-weight="normal" fill="#111" stroke="#111" stroke-width="0.1">0.135</text>
<path d="M548.82,412.50H599.05" stroke="#bebee4" stroke-width="1" fill="none"/>
<rect x="572.48" y="410.90" width="3.2" height="3.2" rx="0.5" fill="#000080"/>
<path d="M531.70,424.5H654.50" stroke="#939393" stroke-width="1" fill="none"/>
<path d="M531.70,424.5V428.8" stroke="#939393" stroke-width="1" fill="none"/>
<text x="531.70" y="440.40" font-size="7.6" text-anchor="middle" font-weight="normal" fill="#111" stroke="#111" stroke-width="0.1">0.1</text>
<path d="M556.13,424.5V428.8" stroke="#939393" stroke-width="1" fill="none"/>
<text x="556.13" y="440.40" font-size="7.6" text-anchor="middle" font-weight="normal" fill="#111" stroke="#111" stroke-width="0.1">0.25</text>
<path d="M574.62,424.5V428.8" stroke="#939393" stroke-width="1" fill="none"/>
<text x="574.62" y="440.40" font-size="7.6" text-anchor="middle" font-weight="normal" fill="#111" stroke="#111" stroke-width="0.1">0.5</text>
<path d="M593.10,424.5V428.8" stroke="#939393" stroke-width="1" fill="none"/>
<text x="593.10" y="440.40" font-size="7.6" text-anchor="middle" font-weight="normal" fill="#111" stroke="#111" stroke-width="0.1">1</text>
<path d="M611.58,424.5V428.8" stroke="#939393" stroke-width="1" fill="none"/>
<text x="611.58" y="440.40" font-size="7.6" text-anchor="middle" font-weight="normal" fill="#111" stroke="#111" stroke-width="0.1">2</text>
<path d="M630.07,424.5V428.8" stroke="#939393" stroke-width="1" fill="none"/>
<text x="630.07" y="440.40" font-size="7.6" text-anchor="middle" font-weight="normal" fill="#111" stroke="#111" stroke-width="0.1">4</text>
<path d="M654.50,424.5V428.8" stroke="#939393" stroke-width="1" fill="none"/>
<text x="654.50" y="440.40" font-size="7.6" text-anchor="middle" font-weight="normal" fill="#111" stroke="#111" stroke-width="0.1">10</text>
<text x="-0.40" y="474.30" font-size="14.5" text-anchor="start" font-weight="bold" fill="#000">d</text>
<text x="158.25" y="475.90" font-size="10.75" text-anchor="middle" font-weight="normal" fill="#111" stroke="#111" stroke-width="0.1">SARS−CoV−2 Non−Naive</text>
<text x="17.60" y="491.60" font-size="7.7" text-anchor="middle" font-weight="normal" fill="#111" stroke="#111" stroke-width="0.1">NAb Titer</text>
<text x="18.70" y="502.20" font-size="7.7" text-anchor="middle" font-weight="normal" fill="#111" stroke="#111" stroke-width="0.1">Marker</text>
<text x="74.40" y="491.60" font-size="7.7" text-anchor="middle" font-weight="normal" fill="#111" stroke="#111" stroke-width="0.1">Vaccine</text>
<text x="74.40" y="502.20" font-size="7.7" text-anchor="middle" font-weight="normal" fill="#111" stroke="#111" stroke-width="0.1">Group</text>
<text x="139.70" y="491.60" font-size="7.7" text-anchor="middle" font-weight="normal" fill="#111" stroke="#111" stroke-width="0.1">Hazard Ratio</text>
<text x="140.10" y="502.20" font-size="7.7" text-anchor="middle" font-weight="normal" fill="#111" stroke="#111" stroke-width="0.1">(95% CI)</text>
<text x="314.00" y="497.20" font-size="7.7" text-anchor="middle" font-weight="normal" fill="#111" stroke="#111" stroke-width="0.1">P-value</text>
<path d="M1.8,506.5H327" stroke="#adadad" stroke-width="1" fill="none"/>
<path d="M234.5,506.0V553.5" stroke="#e2e2f8" stroke-width="1" stroke-dasharray="1.1,1.25" stroke-dashoffset="-0.6" fill="none"/>
<text x="18.70" y="520.50" font-size="7.7" text-anchor="middle" font-weight="normal" fill="#111" stroke="#111" stroke-width="0.1">BA.4/5</text>
<text x="74.40" y="520.50" font-size="7.7" text-anchor="middle" font-weight="normal" fill="#111" stroke="#111" stroke-width="0.1">All mRNA</text>
<text x="140.30" y="520.50" font-size="7.7" text-anchor="middle" font-weight="normal" fill="#111" stroke="#111" stroke-width="0.1">0.45 (0.26, 0.77)</text>
<text x="314.00" y="520.50" font-size="7.7" text-anchor="middle" font-weight="normal" fill="#111" stroke="#111" stroke-width="0.1">0.004</text>
<path d="M198.78,518.00H227.73" stroke="#e2e2f2" stroke-width="1.8" fill="none"/>
<rect x="211.81" y="516.40" width="3.2" height="3.2" rx="0.5" fill="#000080"/>
<text x="18.70" y="544.00" font-size="7.7" text-anchor="middle" font-weight="normal" fill="#111" stroke="#111" stroke-width="0.1">BA.4/5</text>
<text x="74.40" y="538.70" font-size="7.7" text-anchor="middle" font-weight="normal" fill="#111" stroke="#111" stroke-width="0.1">mRNA</text>
<text x="74.40" y="549.50" font-size="7.7" text-anchor="middle" font-weight="normal" fill="#111" stroke="#111" stroke-width="0.1">Omicron-Containing</text>
<text x="140.30" y="544.00" font-size="7.7" text-anchor="middle" font-weight="normal" fill="#111" stroke="#111" stroke-width="0.1">0.45 (0.22, 0.9)</text>
<text x="314.00" y="544.00" font-size="7.7" text-anchor="middle" font-weight="normal" fill="#111" stroke="#111" stroke-width="0.1">0.025</text>
<path d="M194.32,541.50H231.89" stroke="#aeaedc" stroke-width="1" fill="none"/>
<rect x="211.81" y="539.90" width="3.2" height="3.2" rx="0.5" fill="#000080"/>
<path d="M173.30,553.5H296.10" stroke="#939393" stroke-width="1" fill="none"/>
<path d="M173.30,553.5V557.8" stroke="#939393" stroke-width="1" fill="none"/>
<text x="173.30" y="569.40" font-size="7.6" text-anchor="middle" font-weight="normal" fill="#111" stroke="#111" stroke-width="0.1">0.1</text>
<path d="M197.73,553.5V557.8" stroke="#939393" stroke-width="1" fill="none"/>
<text x="197.73" y="569.40" font-size="7.6" text-anchor="middle" font-weight="normal" fill="#111" stroke="#111" stroke-width="0.1">0.25</text>
<path d="M216.22,553.5V557.8" stroke="#939393" stroke-width="1" fill="none"/>
<text x="216.22" y="569.40" font-size="7.6" text-anchor="middle" font-weight="normal" fill="#111" stroke="#111" stroke-width="0.1">0.5</text>
<path d="M234.70,553.5V557.8" stroke="#939393" stroke-width="1" fill="none"/>
<text x="234.70" y="569.40" font-size="7.6" text-anchor="middle" font-weight="normal" fill="#111" stroke="#111" stroke-width="0.1">1</text>
<path d="M253.18,553.5V557.8" stroke="#939393" stroke-width="1" fill="none"/>
<text x="253.18" y="569.40" font-size="7.6" text-anchor="middle" font-weight="normal" fill="#111" stroke="#111" stroke-width="0.1">2</text>
<path d="M271.67,553.5V557.8" stroke="#939393" stroke-width="1" fill="none"/>
<text x="271.67" y="569.40" font-size="7.6" text-anchor="middle" font-weight="normal" fill="#111" stroke="#111" stroke-width="0.1">4</text>
<path d="M296.10,553.5V557.8" stroke="#939393" stroke-width="1" fill="none"/>
<text x="296.10" y="569.40" font-size="7.6" text-anchor="middle" font-weight="normal" fill="#111" stroke="#111" stroke-width="0.1">10</text>
<text x="357.20" y="474.20" font-size="14.5" text-anchor="start" font-weight="bold" fill="#000">e</text>
<text x="524.95" y="475.90" font-size="10.75" text-anchor="middle" font-weight="normal" fill="#111" stroke="#111" stroke-width="0.1">SARS−CoV−2 Non−Naive</text>
<text x="375.80" y="491.60" font-size="7.7" text-anchor="middle" font-weight="normal" fill="#111" stroke="#111" stroke-width="0.1">NAb Titer</text>
<text x="376.90" y="502.20" font-size="7.7" text-anchor="middle" font-weight="normal" fill="#111" stroke="#111" stroke-width="0.1">Marker</text>
<text x="432.60" y="491.60" font-size="7.7" text-anchor="middle" font-weight="normal" fill="#111" stroke="#111" stroke-width="0.1">Vaccine</text>
<text x="432.60" y="502.20" font-size="7.7" text-anchor="middle" font-weight="normal" fill="#111" stroke="#111" stroke-width="0.1">Group</text>
<text x="497.90" y="491.60" font-size="7.7" text-anchor="middle" font-weight="normal" fill="#111" stroke="#111" stroke-width="0.1">Hazard Ratio</text>
<text x="498.30" y="502.20" font-size="7.7" text-anchor="middle" font-weight="normal" fill="#111" stroke="#111" stroke-width="0.1">(95% CI)</text>
<text x="672.20" y="497.20" font-size="7.7" text-anchor="middle" font-weight="normal" fill="#111" stroke="#111" stroke-width="0.1">P-value</text>
<path d="M360.0,506.5H685.2" stroke="#adadad" stroke-width="1" fill="none"/>
<path d="M592.9,506.0V553.5" stroke="#e2e2f8" stroke-width="1" stroke-dasharray="1.1,1.25" stroke-dashoffset="-0.6" fill="none"/>
<text x="376.90" y="520.50" font-size="7.7" text-anchor="middle" font-weight="normal" fill="#111" stroke="#111" stroke-width="0.1">D614G</text>
<text x="432.60" y="520.50" font-size="7.7" text-anchor="middle" font-weight="normal" fill="#111" stroke="#111" stroke-width="0.1">All mRNA</text>
<text x="498.50" y="520.50" font-size="7.7" text-anchor="middle" font-weight="normal" fill="#111" stroke="#111" stroke-width="0.1">0.45 (0.25, 0.82)</text>
<text x="672.20" y="520.50" font-size="7.7" text-anchor="middle" font-weight="normal" fill="#111" stroke="#111" stroke-width="0.1">0.009</text>
<path d="M556.13,518.00H587.81" stroke="#e2e2f2" stroke-width="1.8" fill="none"/>
<rect x="570.21" y="516.40" width="3.2" height="3.2" rx="0.5" fill="#000080"/>
<text x="376.90" y="544.00" font-size="7.7" text-anchor="middle" font-weight="normal" fill="#111" stroke="#111" stroke-width="0.1">D614G</text>
<text x="432.60" y="538.70" font-size="7.7" text-anchor="middle" font-weight="normal" fill="#111" stroke="#111" stroke-width="0.1">mRNA</text>
<text x="432.60" y="549.50" font-size="7.7" text-anchor="middle" font-weight="normal" fill="#111" stroke="#111" stroke-width="0.1">Omicron-Containing</text>
<text x="498.50" y="544.00" font-size="7.7" text-anchor="middle" font-weight="normal" fill="#111" stroke="#111" stroke-width="0.1">0.46 (0.22, 0.98)</text>
<text x="672.20" y="544.00" font-size="7.7" text-anchor="middle" font-weight="normal" fill="#111" stroke="#111" stroke-width="0.1">0.044</text>
<path d="M552.72,541.50H592.56" stroke="#aeaedc" stroke-width="1" fill="none"/>
<rect x="570.79" y="539.90" width="3.2" height="3.2" rx="0.5" fill="#000080"/>
<path d="M531.70,553.5H654.50" stroke="#939393" stroke-width="1" fill="none"/>
<path d="M531.70,553.5V557.8" stroke="#939393" stroke-width="1" fill="none"/>
<text x="531.70" y="569.40" font-size="7.6" text-anchor="middle" font-weight="normal" fill="#111" stroke="#111" stroke-width="0.1">0.1</text>
<path d="M556.13,553.5V557.8" stroke="#939393" stroke-width="1" fill="none"/>
<text x="556.13" y="569.40" font-size="7.6" text-anchor="middle" font-weight="normal" fill="#111" stroke="#111" stroke-width="0.1">0.25</text>
<path d="M574.62,553.5V557.8" stroke="#939393" stroke-width="1" fill="none"/>
<text x="574.62" y="569.40" font-size="7.6" text-anchor="middle" font-weight="normal" fill="#111" stroke="#111" stroke-width="0.1">0.5</text>
<path d="M593.10,553.5V557.8" stroke="#939393" stroke-width="1" fill="none"/>
<text x="593.10" y="569.40" font-size="7.6" text-anchor="middle" font-weight="normal" fill="#111" stroke="#111" stroke-width="0.1">1</text>
<path d="M611.58,553.5V557.8" stroke="#939393" stroke-width="1" fill="none"/>
<text x="611.58" y="569.40" font-size="7.6" text-anchor="middle" font-weight="normal" fill="#111" stroke="#111" stroke-width="0.1">2</text>
<path d="M630.07,553.5V557.8" stroke="#939393" stroke-width="1" fill="none"/>
<text x="630.07" y="569.40" font-size="7.6" text-anchor="middle" font-weight="normal" fill="#111" stroke="#111" stroke-width="0.1">4</text>
<path d="M654.50,553.5V557.8" stroke="#939393" stroke-width="1" fill="none"/>
<text x="654.50" y="569.40" font-size="7.6" text-anchor="middle" font-weight="normal" fill="#111" stroke="#111" stroke-width="0.1">10</text>
</svg>
</body></html>
